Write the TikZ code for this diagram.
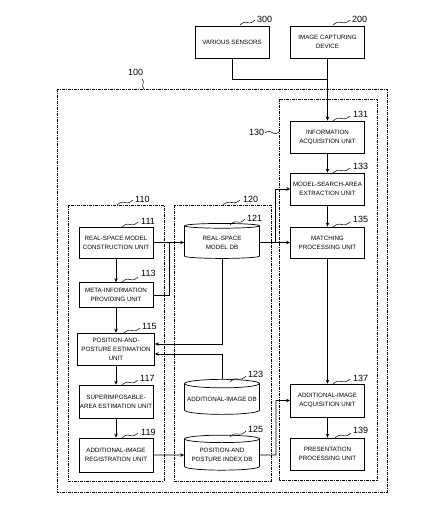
\documentclass[tikz,border=0pt]{standalone}
\usepackage{fontspec}
\setmainfont{Liberation Sans}
\usetikzlibrary{shapes.geometric,arrows.meta,calc}
\newcommand\sqg[4]{\draw[squig] plot[domain=0:1,samples=25,smooth] ({#1+(#3-#1)*\x},{#2+(#4-#2)*\x-1.3*sin(360*\x)});}
\begin{document}
\begin{tikzpicture}[x=1pt,y=-1pt,
 box/.style={draw, line width=0.7pt, inner sep=0.5pt, align=center, font=\fontsize{6.2}{9}\selectfont, minimum width=74pt},
 db/.style={draw, line width=0.7pt, cylinder, shape border rotate=90, shape aspect=0.12, inner sep=0.5pt, align=center, font=\fontsize{6.2}{9}\selectfont, minimum width=75pt, minimum height=35pt},
 arr/.style={line width=0.7pt,-{Stealth[length=4pt,width=3.5pt]}},
 ln/.style={line width=0.7pt},
 grp/.style={line width=0.6pt, dash pattern=on 3pt off 1pt on 1pt off 1pt},
 num/.style={font=\fontsize{9}{10}\selectfont, inner sep=0pt, anchor=west},
 squig/.style={line width=0.5pt}]
\fill[white] (0,0) rectangle (440,525);
\useasboundingbox (0,0) rectangle (440,525);
% groups
\draw[grp] (57,89) rectangle (387,492);
\draw[grp] (68,205) rectangle (164,481);
\draw[grp] (174,205) rectangle (271,481);
\draw[grp] (279,99) rectangle (377,480);
% boxes
\node[box, minimum height=32pt] (s300) at (232,42) {VARIOUS SENSORS};
\node[box, minimum height=32pt] (d200) at (327.5,42) {IMAGE CAPTURING\\DEVICE};
\node[box, minimum height=32pt] (u131) at (327.5,137) {INFORMATION\\ACQUISITION UNIT};
\node[box, minimum height=32pt] (u133) at (327.5,189) {MODEL-SEARCH-AREA\\EXTRACTION UNIT};
\node[box, minimum height=31pt] (u135) at (327.5,242.5) {MATCHING\\PROCESSING UNIT};
\node[box, minimum height=33pt] (u137) at (327.5,400.5) {ADDITIONAL-IMAGE\\ACQUISITION UNIT};
\node[box, minimum height=32pt] (u139) at (327.5,454) {PRESENTATION\\PROCESSING UNIT};
\node[box, minimum height=31pt] (u111) at (116,242.5) {REAL-SPACE MODEL\\CONSTRUCTION UNIT};
\node[box, minimum height=25pt] (u113) at (116,295) {META-INFORMATION\\PROVIDING UNIT};
\node[box, minimum height=32pt, minimum width=77pt] (u115) at (116,349) {POSITION-AND-\\POSTURE ESTIMATION\\UNIT};
\node[box, minimum height=33pt] (u117) at (116,401.5) {SUPERIMPOSABLE-\\AREA ESTIMATION UNIT};
\node[box, minimum height=34pt] (u119) at (116,455) {ADDITIONAL-IMAGE\\REGISTRATION UNIT};
\node[db] (db121) at (222,242.5) {REAL-SPACE\\MODEL DB};
\node[db] (db123) at (222,399.5) {ADDITIONAL-IMAGE DB};
\node[db] (db125) at (222,455) {POSITION-AND\\POSTURE INDEX DB};
% numbers
\node[num] (n300) at (257,19) {300}; \sqg{240}{25}{255}{20}
\node[num] (n200) at (352,19) {200}; \sqg{333}{25}{350}{20}
\node[num] (n100) at (128,72) {100}; \draw[squig] (142,79) .. controls (146,82) and (140,85) .. (144,89);
\node[num] (n130) at (249,132) {130}; \sqg{265}{133}{279}{132}
\node[num] (n131) at (353,114) {131}; \sqg{333}{121}{350}{116}
\node[num] (n133) at (353,166) {133}; \sqg{333}{173}{350}{168}
\node[num] (n135) at (353,219) {135}; \sqg{333}{227}{350}{222}
\node[num] (n137) at (353,378) {137}; \sqg{333}{384}{350}{379}
\node[num] (n139) at (353,430) {139}; \sqg{335}{438}{351}{433}
\node[num] (n110) at (135,199) {110}; \sqg{117}{205}{133}{200}
\node[num] (n120) at (243,199) {120}; \sqg{223}{205}{240}{200}
\node[num] (n111) at (141,221) {111}; \sqg{122}{227}{138}{222}
\node[num] (n113) at (141,273) {113}; \sqg{122}{282}{138}{277}
\node[num] (n115) at (142,326) {115}; \sqg{124}{333}{140}{328}
\node[num] (n117) at (140,378) {117}; \sqg{122}{385}{138}{380}
\node[num] (n119) at (141,432) {119}; \sqg{122}{438}{138}{433}
\node[num] (n121) at (247,218) {121}; \sqg{230}{225}{245}{219}
\node[num] (n123) at (248,374) {123}; \sqg{230}{382}{246}{376}
\node[num] (n125) at (248,429) {125}; \sqg{230}{437}{246}{431}
% connectors
\coordinate (j1) at (327.5,79);
\draw[ln] (s300.south) |- (j1);
\draw[arr] (d200.south) -- (u131.north);
\draw[arr] (u131.south) -- (u133.north);
\draw[arr] (u133.south) -- (u135.north);
\draw[arr] (u135.south) -- (u137.north);
\draw[arr] (u137.south) -- (u139.north);
\draw[arr] (u111.south) -- (u113.north);
\draw[arr] (u113.south) -- (u115.north);
\draw[arr] (u115.south) -- (u117.north);
\draw[arr] (u117.south) -- (u119.north);
\draw[arr] (u111.east) -- (db121.west);
\coordinate (j2) at (169,242.5);
\draw[ln] (u113.east) -| (j2);
\draw[arr] (db121.east) -- (u135.west);
\coordinate (j3) at (275,242.5);
\draw[arr] (j3) |- (u133.west);
\draw[arr] (db121.south) |- ([yshift=5pt]u115.east);
\draw[arr] (db123.north) |- ([yshift=-5pt]u115.east);
\draw[arr] (u119.east) -- (db125.west);
\coordinate (j4) at (276,455);
\draw[arr] (db125.east) -- (j4) |- (u137.west);
\end{tikzpicture}
\end{document}
